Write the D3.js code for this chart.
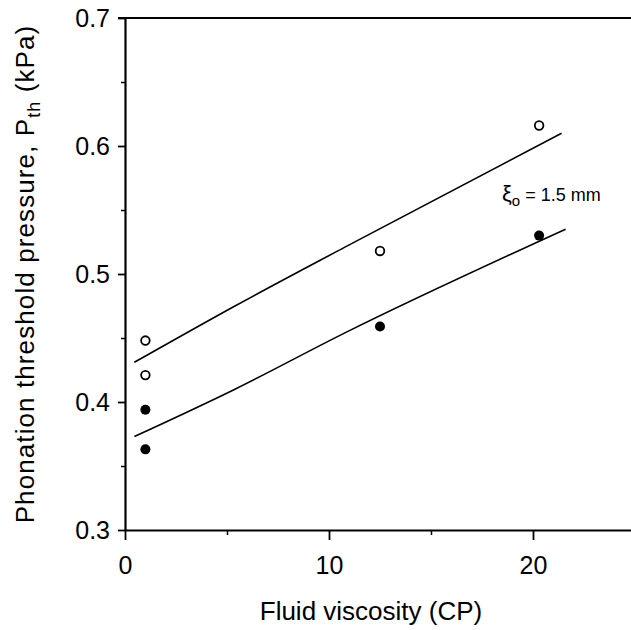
<!DOCTYPE html>
<html lang="en">
<head>
<meta charset="UTF-8">
<title>Phonation threshold pressure</title>
<script src="https://d3js.org/d3.v7.min.js"></script>
<style>
  body { margin: 0; background: #fff; }
  .chart svg { font-family: "Liberation Sans", Arial, Helvetica, sans-serif; }
  .axis path, .axis line { stroke: #000; }
  .axis text { font-size: 25px; fill: #000; font-family: "Liberation Sans", Arial, Helvetica, sans-serif; }
</style>
</head>
<body>
<div class="chart"></div>
<script>
// measured points (viscosity in CP, pressure in kPa)
const openX = [1, 1, 12.5, 20.3]
const openY = [0.448, 0.421, 0.518, 0.616]
const filledX = [1, 1, 12.5, 20.3]
const filledY = [0.394, 0.363, 0.459, 0.530]
// fitted curves
const upperX = [0.46, 5.39, 10.78, 21.4]
const upperY = [0.431, 0.475, 0.521, 0.610]
const lowerX = [0.46, 5.39, 10.78, 21.6]
const lowerY = [0.373, 0.410, 0.454, 0.535]
const xTicks = [0, 10, 20]
const xMinor = [5, 15, 25]
const yTicks = [0.3, 0.4, 0.5, 0.6, 0.7]
const yMinor = [0.35, 0.45, 0.55, 0.65]

const width = 631, height = 630

const svg = d3.select('.chart').append('svg')
    .attr('width', width)
    .attr('height', height)

const xScale = d3.scaleLinear().domain([0, 25]).range([125, 635])
const yScale = d3.scaleLinear().domain([0.3, 0.7]).range([530, 18])

// x axis
svg.append('g')
    .attr('class', 'axis')
    .attr('transform', `translate(0,${yScale(0.3)})`)
    .call(d3.axisBottom(xScale).tickValues(xTicks).tickSize(10).tickPadding(16).tickSizeOuter(0))
    .call(g => g.select('.domain').attr('stroke-width', 2.2))
    .call(g => g.selectAll('.tick line').attr('stroke-width', 1.8))
svg.append('g')
    .attr('class', 'axis')
    .attr('transform', `translate(0,${yScale(0.3)})`)
    .call(d3.axisBottom(xScale).tickValues(xMinor).tickSize(5).tickFormat(''))
    .call(g => g.select('.domain').remove())
    .call(g => g.selectAll('.tick line').attr('stroke-width', 1.5))

// y axis
svg.append('g')
    .attr('class', 'axis')
    .attr('transform', `translate(${xScale(0)},0)`)
    .call(d3.axisLeft(yScale).tickValues(yTicks).tickSize(7).tickPadding(8).tickSizeOuter(0).tickFormat(d3.format('.1f')))
    .call(g => g.select('.domain').attr('stroke-width', 2.2))
    .call(g => g.selectAll('.tick line').attr('stroke-width', 1.8))
svg.append('g')
    .attr('class', 'axis')
    .attr('transform', `translate(${xScale(0)},0)`)
    .call(d3.axisLeft(yScale).tickValues(yMinor).tickSize(4).tickFormat(''))
    .call(g => g.select('.domain').remove())
    .call(g => g.selectAll('.tick line').attr('stroke-width', 1.5))

// top frame line
svg.append('line')
    .attr('x1', xScale(0) - 7).attr('x2', width)
    .attr('y1', yScale(0.7)).attr('y2', yScale(0.7))
    .attr('stroke', '#000').attr('stroke-width', 2.2)

// fitted lines
const line = d3.line().x(d => xScale(d[0])).y(d => yScale(d[1])).curve(d3.curveMonotoneX)
svg.append('path')
    .attr('d', line(d3.zip(upperX, upperY)))
    .attr('fill', 'none').attr('stroke', '#000').attr('stroke-width', 1.6)
svg.append('path')
    .attr('d', line(d3.zip(lowerX, lowerY)))
    .attr('fill', 'none').attr('stroke', '#000').attr('stroke-width', 1.6)

// points
svg.append('g').selectAll('circle')
    .data(d3.zip(openX, openY))
    .join('circle')
    .attr('cx', d => xScale(d[0]))
    .attr('cy', d => yScale(d[1]))
    .attr('r', 4.3)
    .attr('fill', '#fff').attr('stroke', '#000').attr('stroke-width', 1.8)
svg.append('g').selectAll('circle')
    .data(d3.zip(filledX, filledY))
    .join('circle')
    .attr('cx', d => xScale(d[0]))
    .attr('cy', d => yScale(d[1]))
    .attr('r', 5)
    .attr('fill', '#000')

// annotation
const note = svg.append('text')
    .attr('x', 502).attr('y', 201)
    .attr('font-size', 18)
note.append('tspan').attr('font-size', 22).text('ξ')
note.append('tspan').attr('font-size', 15).attr('dy', 5).text('o')
note.append('tspan').attr('dy', -5).text(' = 1.5 mm')

// axis titles
svg.append('text')
    .attr('x', 371).attr('y', 620)
    .attr('text-anchor', 'middle')
    .attr('font-size', 26)
    .text('Fluid viscosity (CP)')

const yTitle = svg.append('text')
    .attr('transform', 'translate(34,274) rotate(-90)')
    .attr('text-anchor', 'middle')
    .attr('font-size', 26)
    .attr('letter-spacing', 1.1)
yTitle.append('tspan').text('Phonation threshold pressure, P')
yTitle.append('tspan').attr('font-size', 18).attr('dy', 6).text('th')
yTitle.append('tspan').attr('dy', -6).text(' (kPa)')
</script>
</body>
</html>
